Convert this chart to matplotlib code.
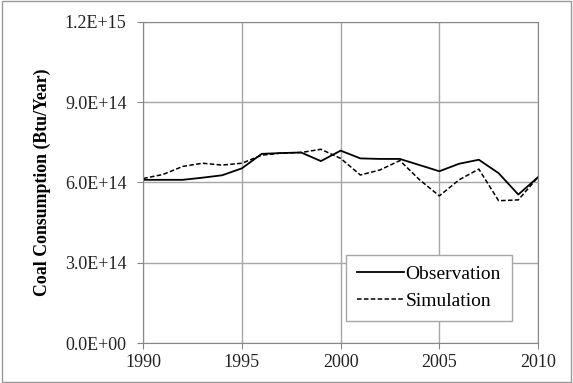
import numpy as np
import matplotlib.pyplot as plt
from matplotlib.patches import Rectangle

plt.rcParams['font.family'] = ['Liberation Serif', 'DejaVu Serif']

years = list(range(1990, 2011))
observation = [6.10, 6.10, 6.10, 6.18, 6.27, 6.53, 7.07, 7.10, 7.12, 6.80, 7.19,
               6.90, 6.88, 6.88, 6.65, 6.42, 6.70, 6.85, 6.35, 5.55, 6.20]
simulation = [6.15, 6.30, 6.60, 6.72, 6.65, 6.72, 7.02, 7.10, 7.12, 7.24, 6.90,
              6.28, 6.47, 6.82, 6.10, 5.50, 6.10, 6.50, 5.32, 5.35, 6.20]
obs = np.array(observation) * 1e14
sim = np.array(simulation) * 1e14

yticks = [0, 3e14, 6e14, 9e14, 1.2e15]
ytick_labels = ['0.0E+00', '3.0E+14', '6.0E+14', '9.0E+14', '1.2E+15']
xticks = [1990, 1995, 2000, 2005, 2010]

fig = plt.figure(figsize=(5.73, 3.83), dpi=100)
ax = fig.add_axes([0.25, 0.104, 0.689, 0.839])

ax.plot(years, obs, color='black', lw=1.3, label='Observation')
ax.plot(years, sim, color='black', lw=1.1, ls=(0, (3, 1.5)), label='Simulation')

ax.set_xlim(1990, 2010)
ax.set_ylim(0, 1.2e15)
ax.set_xticks(xticks)
ax.set_yticks(yticks)
ax.set_yticklabels(ytick_labels)
ax.tick_params(labelsize=13, colors='#222222', length=4, color='#888888')
ax.tick_params(axis='y', pad=8)
ax.tick_params(axis='x', pad=4)
ax.grid(True, color='#a6a6a6', lw=1)
for s in ax.spines.values():
    s.set_color('#888888')

ax.set_ylabel('Coal Consumption (Btu/Year)', fontsize=12.8, fontweight='bold', labelpad=10)

leg = ax.legend(loc='lower right', bbox_to_anchor=(0.958, 0.039), fontsize=14,
                fancybox=False, framealpha=1, edgecolor='#a6a6a6',
                handlelength=2.4, handletextpad=0.1, borderpad=0.55,
                labelspacing=0.5)
leg.get_frame().set_linewidth(1)

fig.patches.append(Rectangle((0.003, 0.003), 0.994, 0.994, transform=fig.transFigure,
                             fill=False, edgecolor='#999999', lw=1))

fig.savefig('out.png', dpi=100)
